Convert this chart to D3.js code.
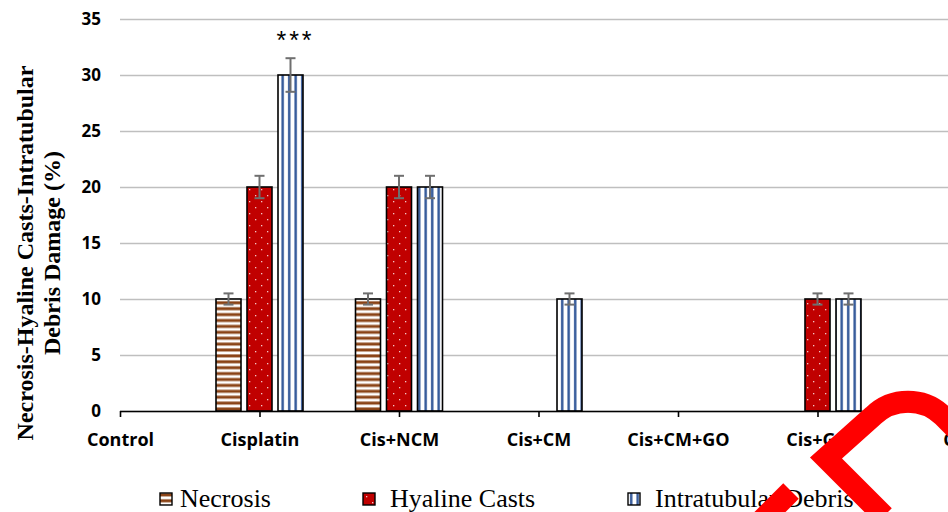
<!DOCTYPE html>
<html>
<head>
<meta charset="utf-8">
<script src="https://cdn.jsdelivr.net/npm/d3@7"></script>
<style>
  html, body { margin: 0; padding: 0; background: #fff; }
  svg { display: block; }
</style>
</head>
<body>
<div id="chart"></div>
<script>
// data
const categories = ['Control', 'Cisplatin', 'Cis+NCM', 'Cis+CM', 'Cis+CM+GO', 'Cis+GO', 'CM']
const seriesNames = ['Necrosis', 'Hyaline Casts', 'Intratubular Debris']
const necrosis = [0, 10, 10, 0, 0, 0, 0]
const hyaline = [0, 20, 20, 0, 0, 10, 0]
const debris = [0, 30, 20, 10, 0, 10, 0]
const necrosisErr = [0, 0.5, 0.5, 0, 0, 0, 0]
const hyalineErr = [0, 1, 1, 0, 0, 0.5, 0]
const debrisErr = [0, 1.5, 1, 0.5, 0, 0.5, 0]
const yTicks = [0, 5, 10, 15, 20, 25, 30, 35]
const significance = [{ category: 'Cisplatin', series: 'Intratubular Debris', label: '***' }]

const WIDTH = 948
const HEIGHT = 512
const AXIS_X = 120
const AXIS_Y = 411
const TOP_Y = 19
const CAT_STEP = 139.5

const svg = d3.select('#chart').append('svg')
    .attr('width', WIDTH)
    .attr('height', HEIGHT)

/**
 * Patterns
 */
const defs = svg.append('defs')
const pNec = defs.append('pattern').attr('id', 'pat-nec')
    .attr('patternUnits', 'userSpaceOnUse').attr('width', 8).attr('height', 5.9)
pNec.append('rect').attr('width', 8).attr('height', 5.9).attr('fill', '#fff')
pNec.append('rect').attr('y', 0.4).attr('width', 8).attr('height', 3).attr('fill', '#8a4316')

const pHya = defs.append('pattern').attr('id', 'pat-hya')
    .attr('patternUnits', 'userSpaceOnUse').attr('width', 12).attr('height', 12)
pHya.append('rect').attr('width', 12).attr('height', 12).attr('fill', '#c00000')
pHya.append('rect').attr('x', 3).attr('y', 3).attr('width', 1.3).attr('height', 1.3).attr('fill', '#f4c6c6')
pHya.append('rect').attr('x', 9).attr('y', 9).attr('width', 1.3).attr('height', 1.3).attr('fill', '#f4c6c6')

const pDeb = defs.append('pattern').attr('id', 'pat-deb')
    .attr('patternUnits', 'userSpaceOnUse').attr('width', 6.5).attr('height', 8)
pDeb.append('rect').attr('width', 6.5).attr('height', 8).attr('fill', '#fff')
pDeb.append('rect').attr('x', 2).attr('width', 2.4).attr('height', 8).attr('fill', '#2f5597')

const fills = ['url(#pat-nec)', 'url(#pat-hya)', 'url(#pat-deb)']

/**
 * Scales
 */
const x = d3.scalePoint()
    .domain(categories)
    .range([AXIS_X, AXIS_X + CAT_STEP * (categories.length - 1)])

const xInner = d3.scaleBand()
    .domain(seriesNames)
    .range([-46.5, 46.5])
    .paddingInner(6 / 31)
    .paddingOuter(3 / 31)

const y = d3.scaleLinear()
    .domain([0, 35])
    .range([AXIS_Y, TOP_Y])

/**
 * Grid + y axis
 */
const yAxis = svg.append('g')
    .attr('transform', `translate(${AXIS_X},0)`)
    .call(d3.axisLeft(y).tickValues(yTicks).tickSize(-(WIDTH - AXIS_X)).tickPadding(19))
yAxis.select('.domain').remove()
yAxis.selectAll('.tick line').attr('stroke', '#bfbfbf').attr('stroke-width', 1.5)
yAxis.selectAll('.tick text')
    .attr('font-family', '"Open Sans", sans-serif')
    .attr('font-weight', 'bold')
    .attr('font-size', 17)
    .attr('fill', '#000')

/**
 * Bars
 */
const values = [necrosis, hyaline, debris]
const errors = [necrosisErr, hyalineErr, debrisErr]
const rows = []
categories.forEach((c, i) => {
    seriesNames.forEach((s, j) => {
        rows.push({ category: c, series: s, si: j, value: values[j][i], err: errors[j][i] })
    })
})
const shown = rows.filter(d => d.value > 0)

svg.append('g').selectAll('rect')
    .data(shown)
    .enter()
    .append('rect')
    .attr('x', d => x(d.category) + xInner(d.series))
    .attr('y', d => y(d.value))
    .attr('width', xInner.bandwidth())
    .attr('height', d => y(0) - y(d.value))
    .attr('fill', d => fills[d.si])
    .attr('stroke', '#000')
    .attr('stroke-width', 1.6)

/**
 * Error bars
 */
const errG = svg.append('g')
    .attr('stroke', '#6f6f6f')
    .attr('stroke-width', 2)
const withErr = shown.filter(d => d.err > 0)
const cx = d => x(d.category) + xInner(d.series) + xInner.bandwidth() / 2
errG.selectAll('.stem').data(withErr).enter().append('line')
    .attr('x1', cx).attr('x2', cx)
    .attr('y1', d => y(d.value - d.err)).attr('y2', d => y(d.value + d.err))
errG.selectAll('.capTop').data(withErr).enter().append('line')
    .attr('x1', d => cx(d) - 5).attr('x2', d => cx(d) + 5)
    .attr('y1', d => y(d.value + d.err)).attr('y2', d => y(d.value + d.err))
errG.selectAll('.capBot').data(withErr).enter().append('line')
    .attr('x1', d => cx(d) - 5).attr('x2', d => cx(d) + 5)
    .attr('y1', d => y(d.value - d.err)).attr('y2', d => y(d.value - d.err))

/**
 * x axis
 */
const xAxis = svg.append('g')
    .attr('transform', `translate(0,${AXIS_Y})`)
    .call(d3.axisBottom(x).tickSize(6).tickPadding(16).tickSizeOuter(0))
xAxis.select('.domain')
    .attr('d', `M${AXIS_X},0.5H${WIDTH}`)
    .attr('stroke', '#000')
    .attr('stroke-width', 1.6)
xAxis.selectAll('.tick line').attr('stroke', '#000').attr('stroke-width', 1.6)
xAxis.selectAll('.tick text')
    .attr('font-family', '"Open Sans", sans-serif')
    .attr('font-weight', 'bold')
    .attr('font-size', 18)
    .attr('fill', '#000')

/**
 * Significance stars
 */
svg.append('g').selectAll('text')
    .data(significance)
    .enter()
    .append('text')
    .attr('x', d => x(d.category) + xInner(d.series) + xInner.bandwidth() / 2 + 5)
    .attr('y', d => {
        const i = categories.indexOf(d.category)
        const j = seriesNames.indexOf(d.series)
        return y(values[j][i] + errors[j][i]) - 9
    })
    .attr('text-anchor', 'middle')
    .attr('font-family', '"Liberation Sans", sans-serif')
    .attr('font-size', 25)
    .attr('letter-spacing', 3)
    .text(d => d.label)

/**
 * y title
 */
const yTitle = svg.append('text')
    .attr('transform', 'translate(0,253) rotate(-90)')
    .attr('text-anchor', 'middle')
    .attr('font-family', '"Liberation Serif", serif')
    .attr('font-weight', 'bold')
    .attr('font-size', 24)
yTitle.append('tspan').attr('x', 0).attr('y', 33).text('Necrosis-Hyaline Casts-Intratubular')
yTitle.append('tspan').attr('x', 0).attr('y', 60).text('Debris Damage (%)')

/**
 * Legend
 */
const legendX = [160, 363, 628]
const legend = svg.append('g').selectAll('g')
    .data(seriesNames)
    .enter()
    .append('g')
    .attr('transform', (d, i) => `translate(${legendX[i]},493)`)
legend.append('rect')
    .attr('width', 12)
    .attr('height', 12)
    .attr('fill', (d, i) => fills[i])
    .attr('stroke', '#000')
    .attr('stroke-width', 1.4)
legend.append('text')
    .attr('x', (d, i) => [20, 27, 27][i])
    .attr('y', 14)
    .attr('font-family', '"Liberation Serif", serif')
    .attr('font-size', 26)
    .attr('fill', '#000')
    .text(d => d)

/**
 * Red overlay stroke on the picture
 */
const overlay = svg.append('g')
    .attr('fill', 'none')
    .attr('stroke', '#ff0000')
    .attr('stroke-width', 22)
overlay.append('path')
    .attr('stroke-linejoin', 'miter')
    .attr('d', 'M884,516 L826,458 L873,416 A50,50 0 0 1 943,416 L965,438')
overlay.append('path')
    .attr('d', 'M791,491 L745,537')
</script>
</body>
</html>
